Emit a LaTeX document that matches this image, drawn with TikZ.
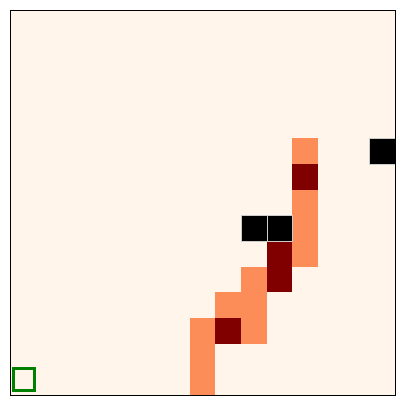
\documentclass[tikz,border=0pt]{standalone}
\usepackage{xcolor}
\usepackage{tikz}
\definecolor{mybg}{RGB}{255,245,235}
\definecolor{myorange}{RGB}{252,141,89}
\definecolor{mydark}{RGB}{128,0,0}
\definecolor{mygreen}{RGB}{0,128,0}
\tikzset{
  trail/.style={fill=myorange},
  hit/.style={fill=mydark},
  wall/.style={fill=black, draw=gray!40, line width=0.3pt},
  start/.style={draw=mygreen, line width=3.4pt}
}
\begin{document}
\begin{tikzpicture}
  \useasboundingbox (-0.3896,-0.3896) rectangle (15.3896,15.3896);
  \fill[mybg] (0,0) rectangle (15,15);
  % visited cells
  \foreach \x/\y in {11/9,11/7,11/6,11/5,9/4,8/3,9/3,7/2,9/2,7/1,7/0}
    \path[trail] (\x,\y) rectangle ++(1,1);
  \foreach \x/\y in {11/8,10/5,10/4,8/2}
    \path[hit] (\x,\y) rectangle ++(1,1);
  % obstacles
  \foreach \x/\y in {14/9,9/6,10/6}
    \draw[wall] (\x,\y) rectangle ++(1,1);
  \draw[start] (0.13,0.18) rectangle (0.95,1.03);
  \draw[line width=0.8pt] (0,0) rectangle (15,15);
\end{tikzpicture}
\end{document}
